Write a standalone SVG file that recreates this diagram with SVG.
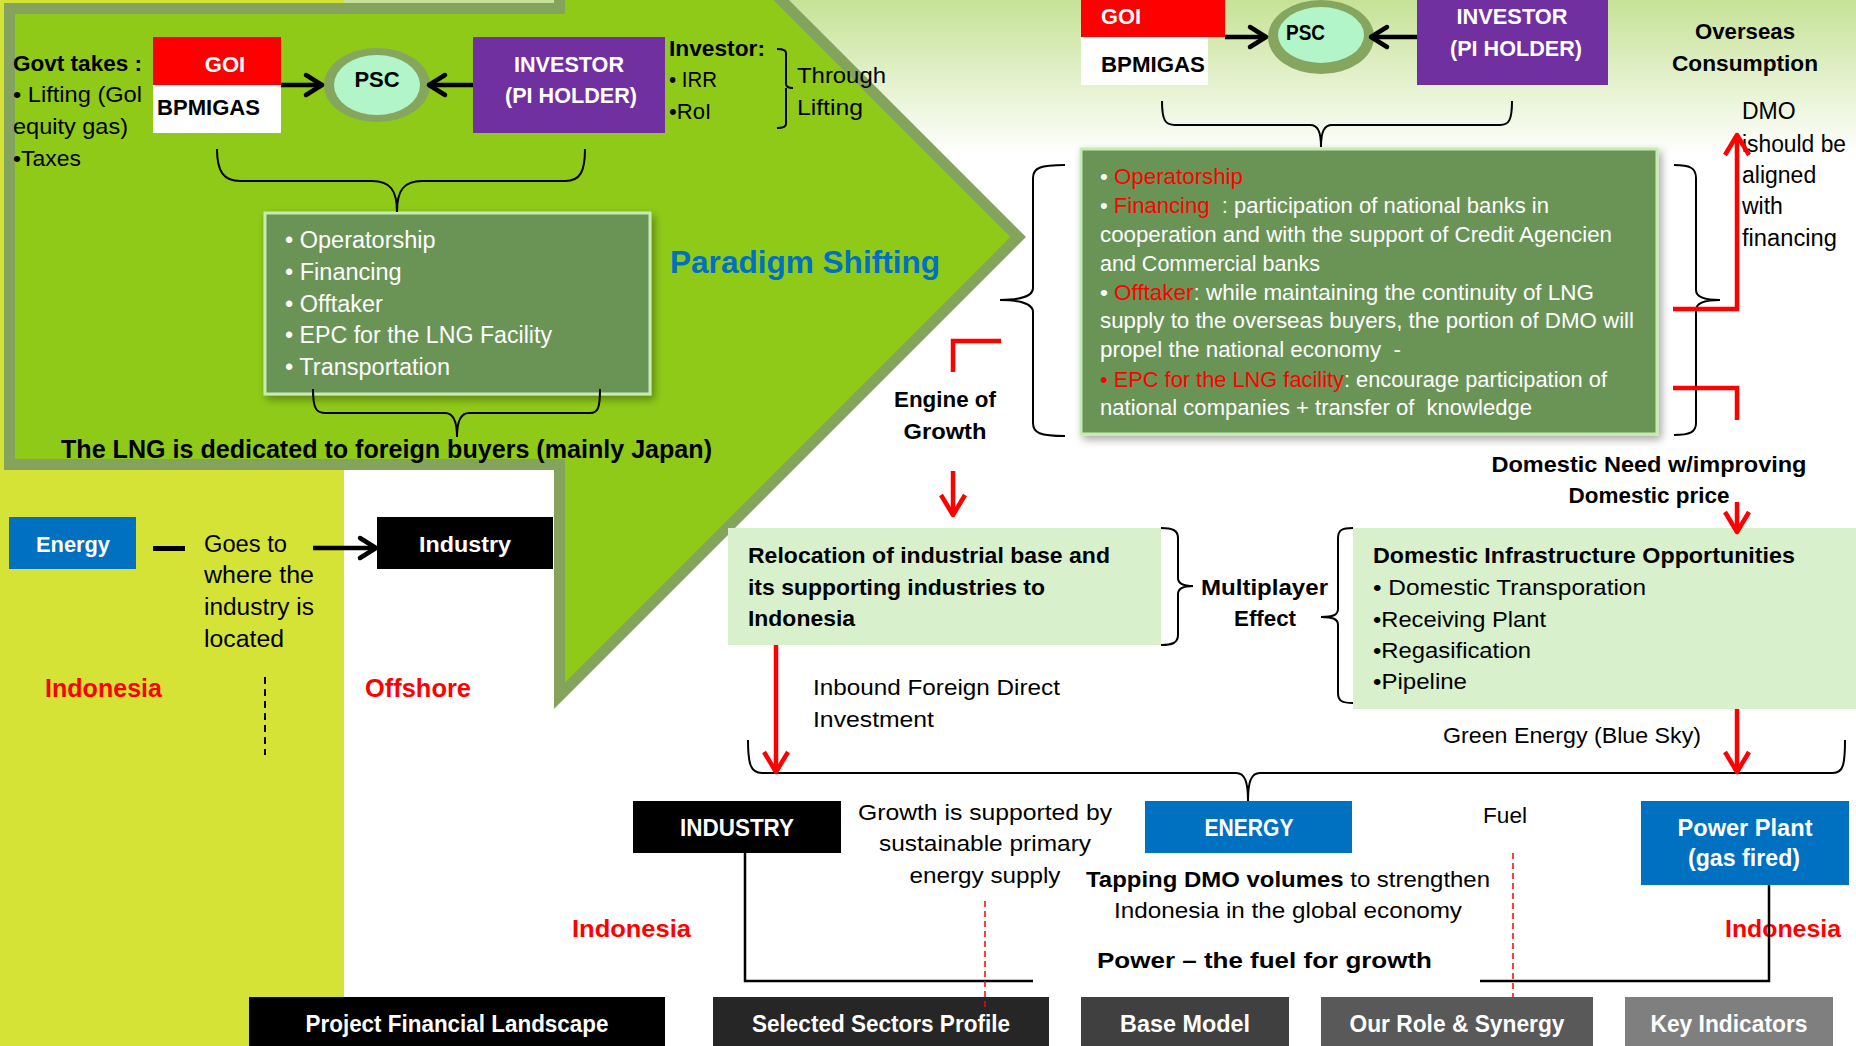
<svg xmlns="http://www.w3.org/2000/svg" width="1856" height="1046" viewBox="0 0 1856 1046">
<defs>
<linearGradient id="topg" x1="0" y1="0" x2="0" y2="1">
<stop offset="0" stop-color="#c6e296"/>
<stop offset="1" stop-color="#ffffff"/>
</linearGradient>
<filter id="sh" x="-5%" y="-5%" width="115%" height="120%">
<feDropShadow dx="3" dy="4" stdDeviation="4" flood-color="#000" flood-opacity="0.35"/>
</filter>
<marker id="ak" viewBox="0 0 24 24" refX="14" refY="12" markerWidth="24" markerHeight="24" markerUnits="userSpaceOnUse" orient="auto" overflow="visible">
<path d="M2,2 L18,12 L2,22" fill="none" stroke="#000" stroke-width="4.5" stroke-linejoin="round" stroke-linecap="round"/>
</marker>
<marker id="ar" viewBox="0 0 26 26" refX="18" refY="13" markerWidth="26" markerHeight="26" markerUnits="userSpaceOnUse" orient="auto" overflow="visible">
<path d="M2,1 L22,13 L2,25" fill="none" stroke="#f00" stroke-width="4.5" stroke-linejoin="round"/>
</marker>
</defs>
<style>
text{font-family:"Liberation Sans",Arial,sans-serif;font-size:22px;fill:#000}
.b{font-weight:bold}
.w{fill:#fff}
.r{fill:#f00}
.bl{fill:#0070c0}
.c{text-anchor:middle}
.ln{fill:none;stroke:#000;stroke-width:2}
.rk{fill:none;stroke:#000;stroke-width:4.5}
.rd{fill:none;stroke:#f00;stroke-width:4.5}
.gbox{fill:#6a9456;stroke:#c6ecb2;stroke-width:3}
.lbox{fill:#d8f1cc}
.tab text{font-weight:bold;fill:#fff;text-anchor:middle;font-size:23px}
</style>

<!-- background -->
<rect x="0" y="0" width="1856" height="1046" fill="#fff"/>
<rect x="0" y="0" width="344" height="1046" fill="#d5e336"/>
<rect x="344" y="0" width="1512" height="155" fill="url(#topg)"/>
<path d="M9.5,8.5 H559.5 V-221.7 L1018.2,237 L559.5,695.7 V464.5 H9.5 Z" fill="#8fca18" stroke="#84a45e" stroke-width="11"/>

<!-- top-left -->
<g id="govt-takes">
<text x="13" y="71" class="b" textLength="129" lengthAdjust="spacingAndGlyphs">Govt takes :</text>
<text x="13" y="102" textLength="129" lengthAdjust="spacingAndGlyphs">• Lifting (Gol</text>
<text x="13" y="134" textLength="115" lengthAdjust="spacingAndGlyphs">equity gas)</text>
<text x="13" y="166" textLength="68" lengthAdjust="spacingAndGlyphs">•Taxes</text>
</g>
<g id="goi-left">
<rect x="153" y="37" width="128" height="48" fill="#f00"/>
<rect x="153" y="85" width="128" height="48" fill="#fff"/>
<text x="225" y="72" class="b w c">GOI</text>
<text x="157" y="115" class="b" textLength="103" lengthAdjust="spacingAndGlyphs">BPMIGAS</text>
</g>
<g id="psc-left">
<ellipse cx="377" cy="85" rx="53" ry="37" fill="#86a55f"/>
<ellipse cx="377" cy="85" rx="43" ry="30" fill="#b2f5c9"/>
<text x="377" y="87" class="b c">PSC</text>
</g>
<g id="investor-left">
<rect x="473" y="37" width="192" height="96" fill="#7030a0"/>
<text x="569" y="72" class="b w c" textLength="110" lengthAdjust="spacingAndGlyphs">INVESTOR</text>
<text x="571" y="103" class="b w c" textLength="132" lengthAdjust="spacingAndGlyphs">(PI HOLDER)</text>
</g>
<g id="investor-notes">
<text x="669" y="56" class="b" textLength="96" lengthAdjust="spacingAndGlyphs">Investor:</text>
<text x="669" y="87" textLength="48" lengthAdjust="spacingAndGlyphs">• IRR</text>
<text x="669" y="119" textLength="42" lengthAdjust="spacingAndGlyphs">•RoI</text>
<text x="797" y="83" textLength="89" lengthAdjust="spacingAndGlyphs">Through</text>
<text x="797" y="115" textLength="66" lengthAdjust="spacingAndGlyphs">Lifting</text>
</g>
<g id="scope-left">
<rect x="265" y="213" width="385" height="181" class="gbox" filter="url(#sh)"/>
<text x="285" y="248" class="w" style="font-size:23.5px">• Operatorship</text>
<text x="285" y="280" class="w" style="font-size:23.5px">• Financing</text>
<text x="285" y="312" class="w" style="font-size:23.5px">• Offtaker</text>
<text x="285" y="343" class="w" style="font-size:23.5px" textLength="267" lengthAdjust="spacingAndGlyphs">• EPC for the LNG Facility</text>
<text x="285" y="375" class="w" style="font-size:23.5px">• Transportation</text>
</g>
<g id="paradigm">
<text x="670" y="273" class="b bl" style="font-size:32px" textLength="270" lengthAdjust="spacingAndGlyphs">Paradigm Shifting</text>
</g>
<g id="lng-dedicated">
<text x="61" y="458" class="b" style="font-size:25px" textLength="651" lengthAdjust="spacingAndGlyphs">The LNG is dedicated to foreign buyers (mainly Japan)</text>
</g>

<!-- bottom-left -->
<g id="energy-left">
<rect x="9" y="517" width="127" height="52" fill="#0070c0"/>
<text x="73" y="552" class="b w c" textLength="74" lengthAdjust="spacingAndGlyphs">Energy</text>
</g>
<g id="goes-to">
<rect x="153" y="546" width="32" height="5" fill="#000"/>
<text x="204" y="552" style="font-size:23px" textLength="83" lengthAdjust="spacingAndGlyphs">Goes to</text>
<text x="204" y="583" style="font-size:23px" textLength="110" lengthAdjust="spacingAndGlyphs">where the</text>
<text x="204" y="615" style="font-size:23px" textLength="110" lengthAdjust="spacingAndGlyphs">industry is</text>
<text x="204" y="647" style="font-size:23px" textLength="80" lengthAdjust="spacingAndGlyphs">located</text>
</g>
<g id="industry-left">
<rect x="377" y="517" width="176" height="52" fill="#000"/>
<text x="465" y="552" class="b w c" textLength="92" lengthAdjust="spacingAndGlyphs">Industry</text>
</g>
<g id="location-left">
<text x="45" y="697" class="b r" style="font-size:25px" textLength="117" lengthAdjust="spacingAndGlyphs">Indonesia</text>
<text x="365" y="697" class="b r" style="font-size:25px" textLength="106" lengthAdjust="spacingAndGlyphs">Offshore</text>
</g>

<!-- top-right -->
<g id="goi-right">
<rect x="1081" y="0" width="144" height="37" fill="#f00"/>
<rect x="1081" y="37" width="127" height="48" fill="#fff"/>
<text x="1101" y="24" class="b w" textLength="40" lengthAdjust="spacingAndGlyphs">GOI</text>
<text x="1101" y="72" class="b" textLength="104" lengthAdjust="spacingAndGlyphs">BPMIGAS</text>
</g>
<g id="psc-right">
<ellipse cx="1321" cy="37" rx="53" ry="37" fill="#86a55f"/>
<ellipse cx="1321" cy="35" rx="43" ry="28" fill="#b2f5c9"/>
<text x="1286" y="40" class="b" textLength="39" lengthAdjust="spacingAndGlyphs">PSC</text>
</g>
<g id="investor-right">
<rect x="1417" y="0" width="191" height="85" fill="#7030a0"/>
<text x="1512" y="24" class="b w c" textLength="111" lengthAdjust="spacingAndGlyphs">INVESTOR</text>
<text x="1516" y="56" class="b w c" textLength="132" lengthAdjust="spacingAndGlyphs">(PI HOLDER)</text>
</g>
<g id="overseas">
<text x="1745" y="39" class="b c" textLength="100" lengthAdjust="spacingAndGlyphs">Overseas</text>
<text x="1745" y="71" class="b c" textLength="146" lengthAdjust="spacingAndGlyphs">Consumption</text>
</g>
<g id="dmo-note">
<text x="1742" y="119" style="font-size:23px">DMO</text>
<text x="1742" y="152" style="font-size:23px" textLength="104" lengthAdjust="spacingAndGlyphs">ishould be</text>
<text x="1742" y="183" style="font-size:23px">aligned</text>
<text x="1742" y="214" style="font-size:23px">with</text>
<text x="1742" y="246" style="font-size:23px" textLength="95" lengthAdjust="spacingAndGlyphs">financing</text>
</g>
<g id="scope-right">
<rect x="1081" y="149" width="576" height="285" class="gbox" filter="url(#sh)"/>
<text x="1100" y="184" class="w" textLength="143" lengthAdjust="spacingAndGlyphs">• <tspan class="r">Operatorship</tspan></text>
<text x="1100" y="213" class="w" xml:space="preserve" textLength="449" lengthAdjust="spacingAndGlyphs">• <tspan class="r">Financing</tspan>  : participation of national banks in</text>
<text x="1100" y="242" class="w" textLength="512" lengthAdjust="spacingAndGlyphs">cooperation and with the support of Credit Agencien</text>
<text x="1100" y="271" class="w" textLength="220" lengthAdjust="spacingAndGlyphs">and Commercial banks</text>
<text x="1100" y="300" class="w" textLength="494" lengthAdjust="spacingAndGlyphs">• <tspan class="r">Offtaker</tspan>: while maintaining the continuity of LNG</text>
<text x="1100" y="328" class="w" textLength="534" lengthAdjust="spacingAndGlyphs">supply to the overseas buyers, the portion of DMO will</text>
<text x="1100" y="357" class="w" xml:space="preserve" textLength="301" lengthAdjust="spacingAndGlyphs">propel the national economy  -</text>
<text x="1100" y="387" class="w" textLength="507" lengthAdjust="spacingAndGlyphs"><tspan class="r">• EPC for the LNG facility</tspan>: encourage participation of</text>
<text x="1100" y="415" class="w" xml:space="preserve" textLength="432" lengthAdjust="spacingAndGlyphs">national companies + transfer of  knowledge</text>
</g>
<g id="engine-of-growth">
<text x="945" y="407" class="b c" textLength="102" lengthAdjust="spacingAndGlyphs">Engine of</text>
<text x="945" y="439" class="b c" textLength="83" lengthAdjust="spacingAndGlyphs">Growth</text>
</g>
<g id="domestic-need">
<text x="1649" y="472" class="b c" textLength="315" lengthAdjust="spacingAndGlyphs">Domestic Need w/improving</text>
<text x="1649" y="503" class="b c" textLength="161" lengthAdjust="spacingAndGlyphs">Domestic price</text>
</g>

<!-- middle -->
<g id="relocation">
<rect x="728" y="528" width="433" height="117" class="lbox"/>
<text x="748" y="563" class="b" textLength="362" lengthAdjust="spacingAndGlyphs">Relocation of industrial base and</text>
<text x="748" y="595" class="b" textLength="297" lengthAdjust="spacingAndGlyphs">its supporting industries to</text>
<text x="748" y="626" class="b" textLength="107" lengthAdjust="spacingAndGlyphs">Indonesia</text>
</g>
<g id="multiplayer">
<text x="1201" y="595" class="b" textLength="127" lengthAdjust="spacingAndGlyphs">Multiplayer</text>
<text x="1265" y="626" class="b c" textLength="62" lengthAdjust="spacingAndGlyphs">Effect</text>
</g>
<g id="domestic-infra">
<rect x="1353" y="528" width="503" height="181" class="lbox"/>
<text x="1373" y="563" class="b" textLength="422" lengthAdjust="spacingAndGlyphs">Domestic Infrastructure Opportunities</text>
<text x="1373" y="595" textLength="273" lengthAdjust="spacingAndGlyphs">• Domestic Transporation</text>
<text x="1373" y="627" textLength="173" lengthAdjust="spacingAndGlyphs">•Receiving Plant</text>
<text x="1373" y="658" textLength="158" lengthAdjust="spacingAndGlyphs">•Regasification</text>
<text x="1373" y="689" textLength="94" lengthAdjust="spacingAndGlyphs">•Pipeline</text>
</g>
<g id="fdi-note">
<text x="813" y="695" textLength="247" lengthAdjust="spacingAndGlyphs">Inbound Foreign Direct</text>
<text x="813" y="727" textLength="121" lengthAdjust="spacingAndGlyphs">Investment</text>
</g>
<g id="green-energy">
<text x="1443" y="743" textLength="258" lengthAdjust="spacingAndGlyphs">Green Energy (Blue Sky)</text>
</g>

<!-- bottom -->
<g id="industry-bottom">
<rect x="633" y="801" width="208" height="52" fill="#000"/>
<text x="737" y="836" class="b w c" style="font-size:23px" textLength="114" lengthAdjust="spacingAndGlyphs">INDUSTRY</text>
</g>
<g id="growth-note">
<text x="985" y="820" class="c" textLength="254" lengthAdjust="spacingAndGlyphs">Growth is supported by</text>
<text x="985" y="851" class="c" textLength="212" lengthAdjust="spacingAndGlyphs">sustainable primary</text>
<text x="985" y="883" class="c" textLength="151" lengthAdjust="spacingAndGlyphs">energy supply</text>
</g>
<g id="energy-bottom">
<rect x="1145" y="801" width="207" height="52" fill="#0070c0"/>
<text x="1249" y="836" class="b w c" style="font-size:23px" textLength="89" lengthAdjust="spacingAndGlyphs">ENERGY</text>
</g>
<g id="fuel">
<text x="1483" y="823" textLength="44" lengthAdjust="spacingAndGlyphs">Fuel</text>
</g>
<g id="power-plant">
<rect x="1641" y="801" width="208" height="84" fill="#0070c0"/>
<text x="1745" y="836" class="b w c" style="font-size:23px" textLength="135" lengthAdjust="spacingAndGlyphs">Power Plant</text>
<text x="1744" y="866" class="b w c" style="font-size:23px" textLength="112" lengthAdjust="spacingAndGlyphs">(gas fired)</text>
</g>
<g id="tapping">
<text x="1288" y="887" class="c" textLength="404" lengthAdjust="spacingAndGlyphs"><tspan class="b">Tapping DMO volumes</tspan> to strengthen</text>
<text x="1288" y="918" class="c" textLength="348" lengthAdjust="spacingAndGlyphs">Indonesia in the global economy</text>
</g>
<g id="location-bottom">
<text x="572" y="937" class="b r" style="font-size:24px" textLength="119" lengthAdjust="spacingAndGlyphs">Indonesia</text>
<text x="1725" y="937" class="b r" style="font-size:24px" textLength="116" lengthAdjust="spacingAndGlyphs">Indonesia</text>
</g>
<g id="power-fuel">
<text x="1097" y="968" class="b" textLength="335" lengthAdjust="spacingAndGlyphs">Power – the fuel for growth</text>
</g>

<!-- tabs -->
<g id="tab-project" class="tab">
<rect x="249" y="997" width="416" height="49" fill="#000"/>
<text x="457" y="1032" textLength="303" lengthAdjust="spacingAndGlyphs">Project Financial Landscape</text>
</g>
<g id="tab-sectors" class="tab">
<rect x="713" y="997" width="336" height="49" fill="#262626"/>
<text x="881" y="1032" textLength="258" lengthAdjust="spacingAndGlyphs">Selected Sectors Profile</text>
</g>
<g id="tab-base" class="tab">
<rect x="1081" y="997" width="208" height="49" fill="#404040"/>
<text x="1185" y="1032" textLength="130" lengthAdjust="spacingAndGlyphs">Base Model</text>
</g>
<g id="tab-role" class="tab">
<rect x="1321" y="997" width="272" height="49" fill="#595959"/>
<text x="1457" y="1032" textLength="215" lengthAdjust="spacingAndGlyphs">Our Role &amp; Synergy</text>
</g>
<g id="tab-key" class="tab">
<rect x="1625" y="997" width="208" height="49" fill="#7f7f7f"/>
<text x="1729" y="1032" textLength="157" lengthAdjust="spacingAndGlyphs">Key Indicators</text>
</g>

<!-- connectors -->
<g id="connectors">
<path class="rk" d="M281,85 H318" marker-end="url(#ak)"/>
<path class="rk" d="M473,85 H433" marker-end="url(#ak)"/>
<path class="rk" d="M1225,37 H1262" marker-end="url(#ak)"/>
<path class="rk" d="M1417,37 H1375" marker-end="url(#ak)"/>
<path class="rk" d="M313,548 H372" marker-end="url(#ak)"/>
<path class="ln" d="M217,149 C217,172 224,181 240,181 H372 C390,181 397,190 397,212 C397,190 404,181 422,181 H565 C580,181 585,172 585,149"/>
<path class="ln" d="M313,389 C313,408 316,413 325,413 H445 C453,413 457,420 457,437 C457,420 461,413 469,413 H590 C598,413 600,408 600,389"/>
<path class="ln" d="M777,49 C783,49 786,50 786,53 V84 C786,87 788,88 793,88 M786,88 V124 C786,127 783,128 777,128"/>
<path class="ln" d="M1162,101 C1162,120 1165,125 1175,125 H1310 C1318,125 1321,132 1321,147 C1321,132 1324,125 1332,125 H1500 C1509,125 1512,120 1512,101"/>
<path class="ln" d="M1065,165 C1040,165 1033,168 1033,178 V288 C1033,296 1020,300 1000,300 C1020,300 1033,304 1033,312 V423 C1033,433 1040,436 1065,436"/>
<path class="ln" d="M1674,165 C1690,165 1696,168 1696,178 V290 C1696,297 1705,300 1720,300 C1705,300 1696,303 1696,310 V423 C1696,432 1690,435 1674,435"/>
<path class="ln" d="M1161,528 C1172,528 1178,530 1178,538 V578 C1178,584 1183,586 1193,586 C1183,586 1178,588 1178,594 V635 C1178,643 1172,645 1161,645"/>
<path class="ln" d="M1353,528 C1342,528 1338,530 1338,538 V609 C1338,615 1333,617 1321,617 C1333,617 1338,619 1338,625 V693 C1338,701 1342,703 1353,703"/>
<path class="ln" d="M748,740 C748,765 751,773 762,773 H1236 C1245,773 1248,782 1248,801 C1248,782 1251,773 1260,773 H1833 C1843,773 1845,765 1845,740"/>
<path class="rd" d="M1673,309 H1737 V139" marker-end="url(#ar)"/>
<path class="rd" d="M1673,388 H1737 V420"/>
<path class="rd" d="M1001,341 H953 V372"/>
<path class="rd" d="M953,471 V511" marker-end="url(#ar)"/>
<path class="rd" d="M1737,502 V528" marker-end="url(#ar)"/>
<path class="rd" d="M776,645 V768" marker-end="url(#ar)"/>
<path class="rd" d="M1737,709 V768" marker-end="url(#ar)"/>
<path fill="none" stroke="#000" stroke-width="2.5" d="M745,853 V981 H1033"/>
<path fill="none" stroke="#000" stroke-width="2.5" d="M1769,885 V981 H1480"/>
<path fill="none" stroke="#000" stroke-width="2" stroke-dasharray="7 5" d="M265,677 V755"/>
<path fill="none" stroke="#f00" stroke-width="1.5" stroke-dasharray="6 4" d="M985,901 V1007"/>
<path fill="none" stroke="#f00" stroke-width="1.5" stroke-dasharray="6 4" d="M1513,853 V997"/>
</g>
</svg>
